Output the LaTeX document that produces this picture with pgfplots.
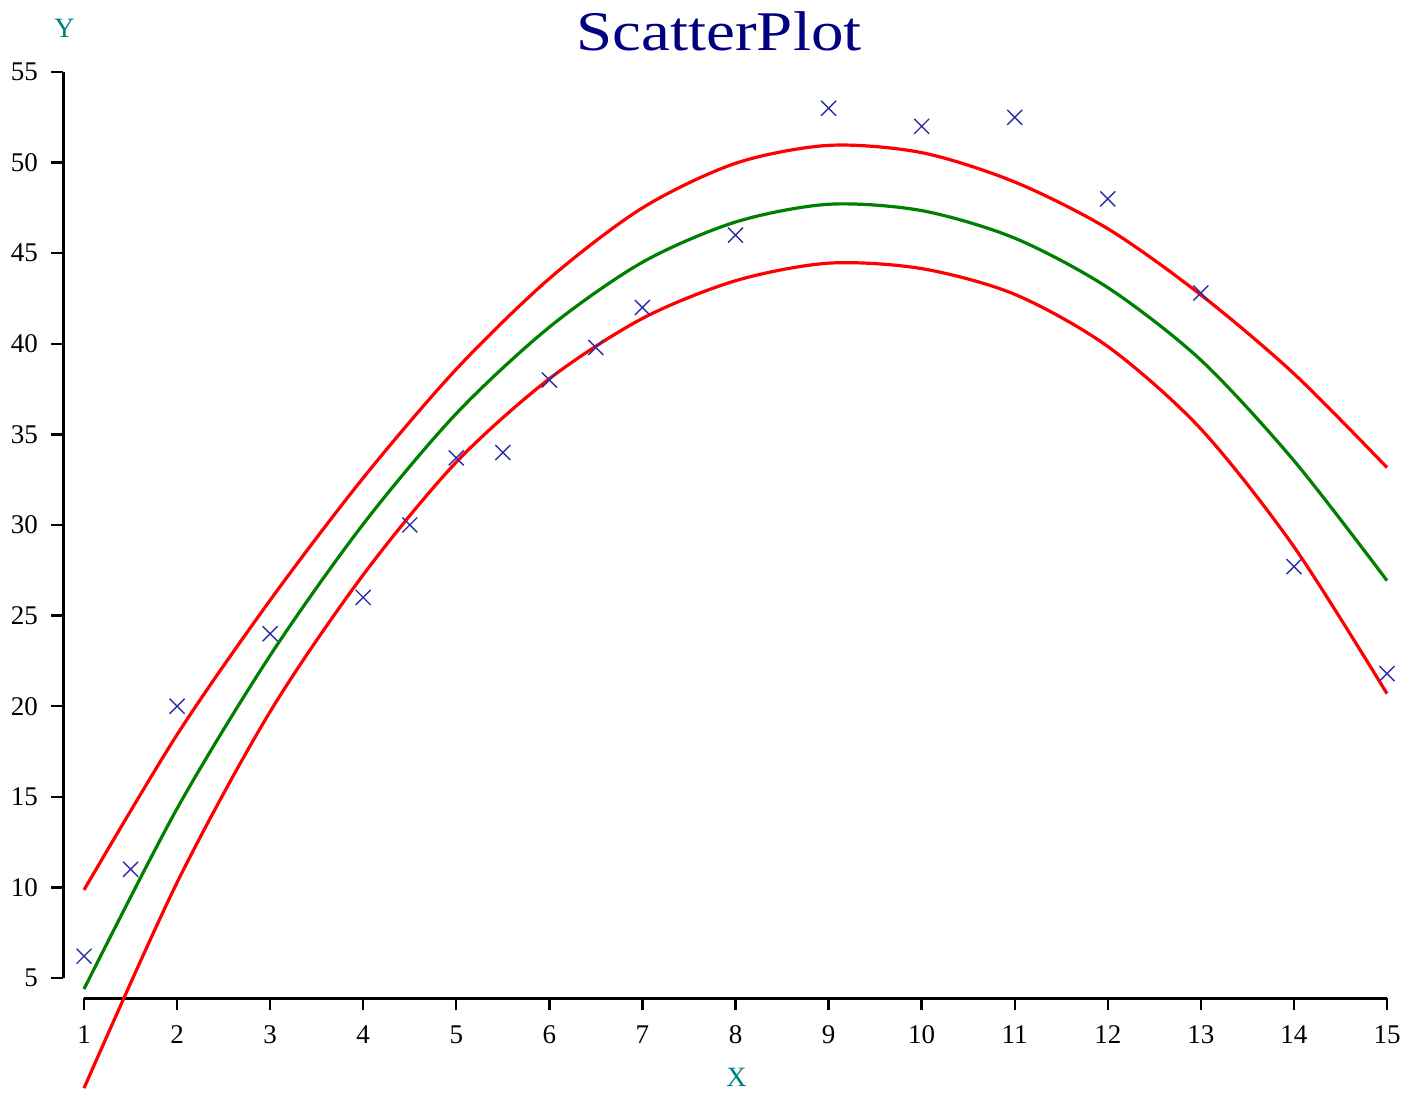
\documentclass[border=0pt]{standalone}
\usepackage{fontspec}
\setmainfont{Liberation Serif}
\newfontfamily\titlefont[FakeStretch=1.16]{Liberation Serif}
\usepackage{pgfplots}
\usepackage{pgfplotstable}
\pgfplotsset{compat=1.18}
\definecolor{navytitle}{RGB}{0,0,128}
\definecolor{tealax}{RGB}{0,128,128}
\definecolor{ptblue}{RGB}{45,45,165}
\definecolor{fitgreen}{RGB}{0,128,0}

\pgfplotstableread{
x y
1 6.2
1.5 11.0
2 20.0
3 24.0
4 26.0
4.5 30.0
5 33.7
5.5 34.0
6 38.0
6.5 39.8
7 42.0
8 46.0
9 53.0
10 52.0
11 52.5
12 48.0
13 42.8
14 27.7
15 21.8
}\pts

\pgfplotstableread{
x up fit lo
1 9.86 4.39 -1.08
2 18.43 14.35 10.27
3 25.85 22.8 19.7
4 32.6 30.05 27.25
5 38.6 36.15 33.47
6 43.6 40.92 38.07
7 47.5 44.5 41.4
8 49.96 46.72 43.48
9 50.95 47.7 44.45
10 50.55 47.35 44.15
11 48.93 45.83 42.73
12 46.35 43.1 39.85
13 42.7 39.1 35.3
14 38.35 33.55 28.8
15 33.17 26.93 20.69
}\band

\begin{document}
\begin{tikzpicture}
\begin{axis}[
  width=651.5pt, height=453pt, scale only axis,
  xmin=1, xmax=15, ymin=5, ymax=55,
  clip=false,
  axis x line*=bottom, axis y line*=left,
  axis x line shift=10.25pt, axis y line shift=10.5pt,
  axis line style={-, line width=1.5pt, black},
  tick align=outside,
  major tick length=6pt,
  tick style={line width=1.2pt, black},
  xtick={1,...,15}, ytick={5,10,...,55},
  /pgf/number format/assume math mode=true,
  ticklabel style={font=\fontsize{13.5}{16}\selectfont, text=black},
  xticklabel style={yshift=-4pt},
  yticklabel style={xshift=-3pt},
]
\addplot[red, line width=1.6pt, smooth] table[x=x,y=up]{\band};
\addplot[fitgreen, line width=1.6pt, smooth] table[x=x,y=fit]{\band};
\addplot[red, line width=1.6pt, smooth] table[x=x,y=lo]{\band};
\addplot[only marks, mark=x, mark size=5.3pt, color=ptblue, mark options={line width=0.7pt}] table[x=x,y=y]{\pts};
\node[anchor=base, text=navytitle, font=\titlefont\fontsize{28}{32}\selectfont] at (axis cs:7.823,56.21) {ScatterPlot};
\node[anchor=base, text=tealax, font=\fontsize{14}{16}\selectfont] at (axis cs:0.79,56.88) {Y};
\node[anchor=base, text=tealax, font=\fontsize{14}{16}\selectfont] at (axis cs:8.01,-1.015) {X};
\coordinate (bbsw) at (axis cs:0.0974,-1.457);
\coordinate (bbne) at (axis cs:15.2364,58.974);
\end{axis}
\pgfresetboundingbox
\path (bbsw) rectangle (bbne);
\end{tikzpicture}
\end{document}
